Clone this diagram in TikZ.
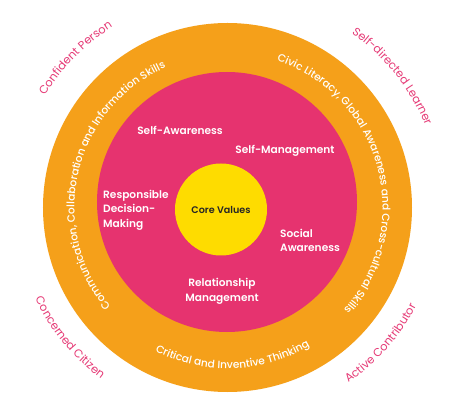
\documentclass[tikz,border=0pt]{standalone}
\usepackage{fontspec}
\setmainfont{Poppins}[BoldFont=Poppins SemiBold]
\newfontfamily\ringfont{Poppins Medium}
\usetikzlibrary{decorations.text}
\definecolor{ringorange}{HTML}{F5A01A}
\definecolor{corepink}{HTML}{E6336F}
\definecolor{coreyellow}{HTML}{FEDC00}
\definecolor{outerpink}{HTML}{E63A76}
\tikzset{
  ringlabel/.style={postaction={decorate}, decoration={text along path, text align=center, text={|\ringfont\fontsize{10.6}{11}\selectfont\color{white}|#1}}},
  outerlabel/.style={postaction={decorate}, decoration={text along path, text align=center, text={|\fontsize{11.4}{12}\selectfont\color{outerpink}|#1}}},
  innerlabel/.style={font=\fontsize{10.6}{14.5}\selectfont\bfseries, text=white, inner sep=0pt},
}
\begin{document}
\begin{tikzpicture}[x=1pt, y=1pt]
  \useasboundingbox[fill=white] (-227.5,-196.5) rectangle (238.5,207.5);
  % rings
  \fill[ringorange] (0,0) circle (184.5);
  \fill[corepink] (-0.5,5.5) circle (130);
  \fill[coreyellow] (-6.5,-2) circle (46);
  % labels inside the rings
  \node[font=\fontsize{9.6}{12}\selectfont\bfseries, text=black!85] (core) at (-6.5,-2.5) {Core Values};
  \node[innerlabel] (selfaware) at (-47.5,77.5) {Self-Awareness};
  \node[innerlabel] (selfmanage) at (57.5,56.5) {Self-Management};
  \node[innerlabel, anchor=west, align=left] (decision) at (-124.5,-2.5) {Responsible\\Decision-\\Making};
  \node[innerlabel, anchor=west, align=left] (social) at (52.5,-33) {Social\\Awareness};
  \node[innerlabel, align=center] (relation) at (-5.5,-84) {Relationship\\Management};
  % text on the orange ring
  \path[ringlabel={Communication, Collaboration and Information Skills}] (257:153) arc[start angle=257, end angle=77, radius=153];
  \path[ringlabel={Civic Literacy, Global Awareness and Cross-cultural Skills}] (105:155) arc[start angle=105, end angle=-75, radius=155];
  \path[ringlabel={Critical and Inventive Thinking}] (202:161) arc[start angle=202, end angle=342, radius=161];
  % outcomes round the outside
  \path[outerlabel={Confident Person}] (175:214) arc[start angle=175, end angle=96, radius=214];
  \path[outerlabel={Self-directed Learner}] (78:214) arc[start angle=78, end angle=-1, radius=214];
  \path[outerlabel={Concerned Citizen}] (180:213) arc[start angle=180, end angle=259, radius=213];
  \path[outerlabel={Active Contributor}] (-81:213) arc[start angle=-81, end angle=-2, radius=213];
\end{tikzpicture}
\end{document}
